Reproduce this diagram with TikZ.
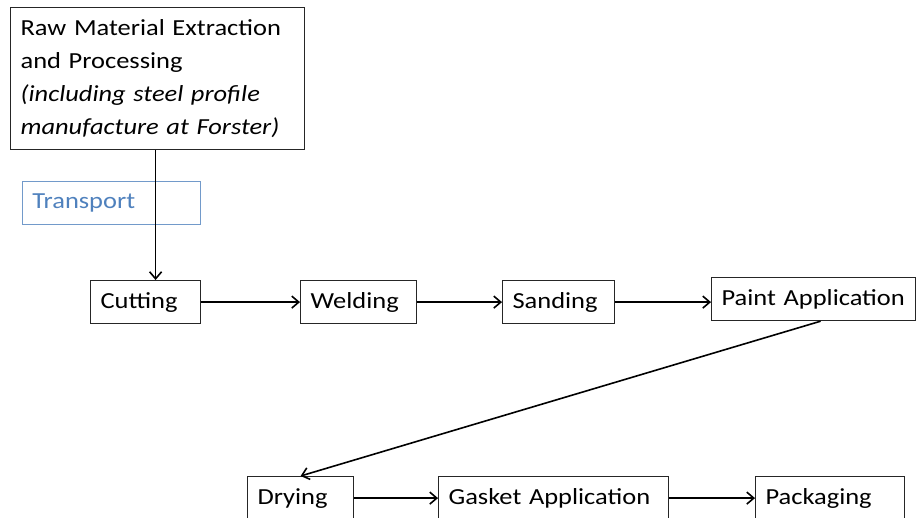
\documentclass[tikz,border=0pt]{standalone}
\usepackage{fontspec}
\setmainfont{Carlito}[FakeStretch=1.15]
\usetikzlibrary{arrows.meta, positioning}
\definecolor{transblue}{RGB}{79,129,189}

\begin{document}
\begin{tikzpicture}[
    x=1pt, y=1pt,
    stagebox/.style={draw=black!85, line width=1.2pt, anchor=north west, minimum height=43pt,
      inner xsep=10pt, align=left, font=\fontsize{23}{33}\selectfont},
    flow/.style={-{Straight Barb[length=7pt, width=12pt]}, line width=1.6pt, draw=black}
]
    \useasboundingbox (0,0) rectangle (917,-518);

    % source box
    \node[stagebox, text width=274pt, minimum height=142pt] (raw) at (10,-7)
      {Raw Material Extraction\\and Processing\\\textit{(including steel profile}\\\textit{manufacture at Forster)}};

    % transport label
    \node[stagebox, draw=transblue!80, line width=0.8pt, text=transblue, text width=158pt] (transport) at (22,-181) {Transport};

    % first row
    \node[stagebox, text width=90pt] (cutting) at (90,-280) {Cutting};
    \node[stagebox, text width=96pt] (welding) at (300,-280) {Welding};
    \node[stagebox, text width=92pt] (sanding) at (502,-280) {Sanding};
    \node[stagebox, text width=184pt] (paint) at (711,-277) {Paint Application};

    % second row (cut off at the bottom)
    \node[stagebox, text width=86pt] (drying) at (247,-476) {Drying};
    \node[stagebox, text width=210pt] (gasket) at (438,-476) {Gasket Application};
    \node[stagebox, text width=129pt] (packaging) at (755,-476) {Packaging};

    % connectors
    \draw[flow] ([xshift=-2pt]raw.south) -- ([xshift=-2pt]raw.south |- cutting.north);
    \draw[flow] (cutting) -- (welding);
    \draw[flow] (welding) -- (sanding);
    \draw[flow] (sanding.east) -- (sanding.east -| paint.west);
    \draw[flow] ([xshift=7pt]paint.south) -- (drying.north);
    \draw[flow] (drying) -- (gasket);
    \draw[flow] (gasket) -- (packaging);

\end{tikzpicture}
\end{document}
